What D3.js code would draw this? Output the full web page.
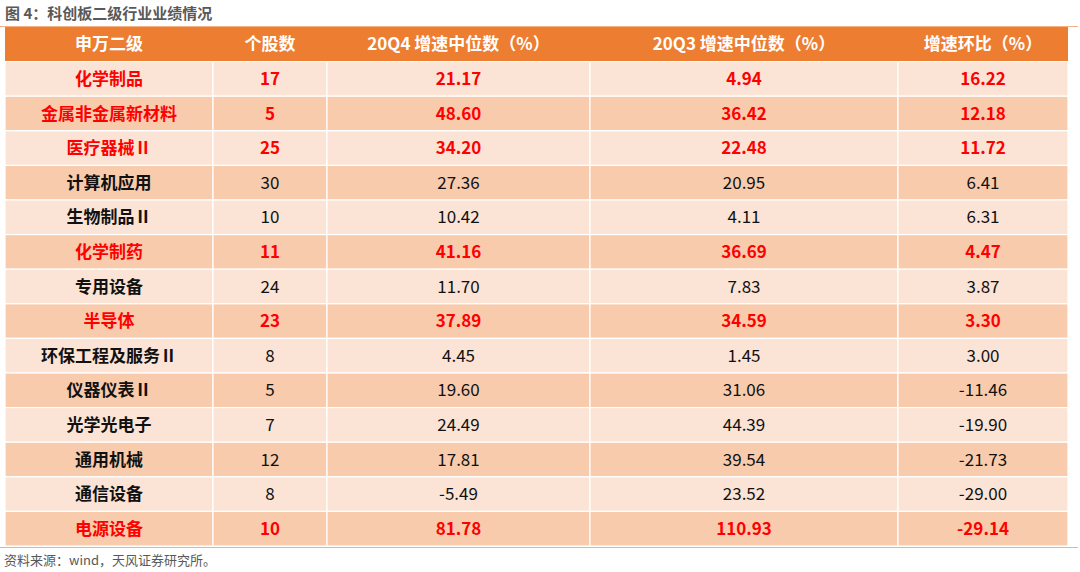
<!DOCTYPE html>
<html><head><meta charset="utf-8">
<script src="https://cdn.jsdelivr.net/npm/d3@7"></script>
<style>body{margin:0;background:#fff}</style>
</head><body>
<script>
var headers = ["申万二级", "个股数", "20Q4 增速中位数（%）", "20Q3 增速中位数（%）", "增速环比（%）"];
var industries = ["化学制品", "金属非金属新材料", "医疗器械Ⅱ", "计算机应用", "生物制品Ⅱ", "化学制药", "专用设备", "半导体", "环保工程及服务Ⅱ", "仪器仪表Ⅱ", "光学光电子", "通用机械", "通信设备", "电源设备"];
var counts = ["17", "5", "25", "30", "10", "11", "24", "23", "8", "5", "7", "12", "8", "10"];
var q4 = ["21.17", "48.60", "34.20", "27.36", "10.42", "41.16", "11.70", "37.89", "4.45", "19.60", "24.49", "17.81", "-5.49", "81.78"];
var q3 = ["4.94", "36.42", "22.48", "20.95", "4.11", "36.69", "7.83", "34.59", "1.45", "31.06", "44.39", "39.54", "23.52", "110.93"];
var qoq = ["16.22", "12.18", "11.72", "6.41", "6.31", "4.47", "3.87", "3.30", "3.00", "-11.46", "-19.90", "-21.73", "-29.00", "-29.14"];
var highlighted = [true, true, true, false, false, true, false, true, false, false, false, false, false, true];

var W = 1080, H = 572;
var svg = d3.select("body").append("svg").attr("width", W).attr("height", H);
var font = "'Noto Sans CJK SC', 'Open Sans', sans-serif";

var edges = [5, 213, 327, 590, 898, 1068];
var y = d3.scaleBand().domain(d3.range(-1, industries.length)).range([27, 546]);

svg.append("text").attr("x", 5).attr("y", 19).attr("font-family", font)
  .attr("font-size", 15).attr("font-weight", "bold").attr("fill", "#595959")
  .text("图 4：科创板二级行业业绩情况");
svg.append("line").attr("x1", 0).attr("x2", 1078).attr("y1", 26.5).attr("y2", 26.5)
  .attr("stroke", "#F4B183").attr("stroke-width", 1);

svg.append("rect").attr("x", edges[0]).attr("y", y(-1)).attr("width", edges[5] - edges[0])
  .attr("height", y.bandwidth()).attr("fill", "#ED7D31");
headers.forEach(function(h, j) {
  svg.append("text").attr("x", (edges[j] + edges[j + 1]) / 2).attr("y", y(-1) + y.bandwidth() / 2)
    .attr("dy", "0.36em").attr("text-anchor", "middle").attr("font-family", font)
    .attr("font-size", 17).attr("font-weight", "bold").attr("fill", "#fff").text(h);
});

var rows = svg.selectAll("g.row").data(industries).enter().append("g")
  .attr("transform", function(d, i) { return "translate(0," + y(i) + ")"; });

rows.each(function(d, i) {
  var g = d3.select(this);
  var cells = [industries[i], counts[i], q4[i], q3[i], qoq[i]];
  var hl = highlighted[i];
  cells.forEach(function(c, j) {
    g.append("rect").attr("x", edges[j]).attr("y", 0).attr("width", edges[j + 1] - edges[j])
      .attr("height", y.bandwidth()).attr("fill", i % 2 ? "#F8CBAD" : "#FBE4D5")
      .attr("stroke", "#fff").attr("stroke-width", 1.2);
    g.append("text").attr("x", (edges[j] + edges[j + 1]) / 2).attr("y", y.bandwidth() / 2)
      .attr("dy", "0.36em").attr("text-anchor", "middle").attr("font-family", font)
      .attr("font-size", 17).attr("font-weight", (hl || j == 0) ? "bold" : "normal")
      .attr("fill", hl ? "#FF0000" : "#111").text(c);
  });
});

svg.append("line").attr("x1", 0).attr("x2", 1078).attr("y1", 547.5).attr("y2", 547.5)
  .attr("stroke", "#F4B183").attr("stroke-width", 1);
svg.append("text").attr("x", 4).attr("y", 565).attr("font-family", font)
  .attr("font-size", 13).attr("fill", "#595959").text("资料来源：wind，天风证券研究所。");
</script>
</body></html>
